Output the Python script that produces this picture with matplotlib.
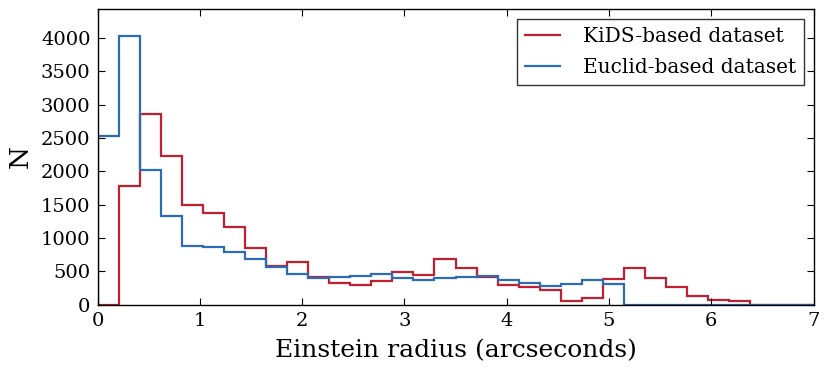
import numpy as np
import matplotlib
matplotlib.use("Agg")
import matplotlib.pyplot as plt

# Histogram bin edges (34 equal bins over 0-7 arcsec)
bin_lo, bin_hi, n_bins = 0.0, 7.0, 34

# Counts per bin
kids_counts = [0, 1778, 2856, 2237, 1493, 1368, 1169, 849, 579, 644,
               409, 330, 292, 360, 494, 444, 689, 549, 414, 295,
               260, 220, 60, 95, 390, 551, 395, 265, 135, 70,
               50, 0, 0, 0]
euclid_counts = [2527, 4030, 2015, 1333, 884, 869, 784, 679, 569, 459,
                 394, 419, 437, 454, 394, 370, 394, 409, 429, 375,
                 325, 275, 315, 365, 305, 0, 0, 0, 0, 0,
                 0, 0, 0, 0]
labels = ["KiDS-based dataset", "Euclid-based dataset"]
colors = ["#c0202f", "#2c6cb4"]

edges = np.linspace(bin_lo, bin_hi, n_bins + 1)

plt.rcParams['font.family'] = ['DejaVu Serif']
fig = plt.figure(figsize=(8.3, 3.71), dpi=100)
ax = fig.add_axes([97.5/830, 1 - 304.7/371, (813.5-97.5)/830, (304.7-9.3)/371])

ax.stairs(kids_counts, edges, color=colors[0], lw=1.6, label=labels[0])
ax.stairs(euclid_counts, edges, color=colors[1], lw=1.6, label=labels[1])

ax.set_xlim(0, 7)
ax.set_ylim(0, 4430)
ax.set_yticks(np.arange(0, 4001, 500))
ax.set_xticks(np.arange(0, 8, 1))
ax.tick_params(direction='in', top=True, right=True, length=5, width=0.8,
               labelsize=14, pad=5)
for s in ax.spines.values():
    s.set_linewidth(1.0)
    s.set_color('black')

ax.set_xlabel("Einstein radius (arcseconds)", fontsize=18, labelpad=7)
ax.set_ylabel("N", fontsize=19, labelpad=6)

leg = ax.legend(loc='upper right', fontsize=14.5, frameon=True, fancybox=False,
                edgecolor='black', handlelength=1.7, handletextpad=1.15,
                borderpad=0.4, labelspacing=0.62, borderaxespad=0.47)
leg.get_frame().set_linewidth(1.0)

fig.savefig("out.png", dpi=100)
